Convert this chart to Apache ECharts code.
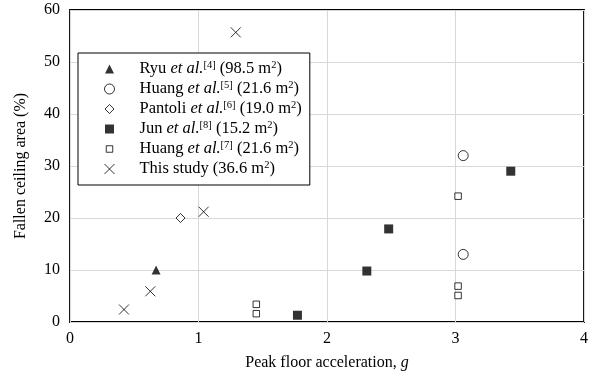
<!DOCTYPE html>
<html>
<head>
<meta charset="utf-8">
<script src="https://cdn.jsdelivr.net/npm/echarts@6/dist/echarts.min.js"></script>
<style>html,body{margin:0;padding:0;background:#fff}#c{width:591px;height:376px}</style>
</head>
<body>
<div id="c"></div>
<script>
const xTicks = [0, 1, 2, 3, 4];
const yTicks = [0, 10, 20, 30, 40, 50, 60];
const seriesNames = ['Ryu', 'Huang5', 'Pantoli', 'Jun', 'Huang7', 'This'];
const legendLabels = [
  'Ryu {i|et al.}{s|[4]} (98.5 m{s|2})',
  'Huang {i|et al.}{s|[5]} (21.6 m{s|2})',
  'Pantoli {i|et al.}{s|[6]} (19.0 m{s|2})',
  'Jun {i|et al.}{s|[8]} (15.2 m{s|2})',
  'Huang {i|et al.}{s|[7]} (21.6 m{s|2})',
  'This study (36.6 m{s|2})'
];
const ryu = [[0.67, 10]];
const huang5 = [[3.06, 32], [3.06, 13]];
const pantoli = [[0.86, 20]];
const jun = [[1.77, 1.3], [2.31, 9.8], [2.48, 17.9], [3.43, 29]];
const huang7 = [[1.45, 3.4], [1.45, 1.6], [3.02, 24.2], [3.02, 6.9], [3.02, 5.1]];
const thisStudy = [[0.42, 2.4], [0.625, 5.9], [1.04, 21.2], [1.29, 55.7]];

const font = 'Liberation Serif';
const X = 'path://M0,0L10,10M10,0L0,10';
// legend icons drawn in a 50x10 box (corner points fix the box)
const box = 'M0,0L0,0M50,10L50,10';
const legendIcons = [
  'path://' + box + 'M25,0.5L29.5,9.5L20.5,9.5Z',
  'path://' + box + 'M20,5A5,5 0 1,0 30,5A5,5 0 1,0 20,5Z',
  'path://' + box + 'M25,0.5L29.5,5L25,9.5L20.5,5Z',
  'path://' + box + 'M20.5,0.5L29.5,0.5L29.5,9.5L20.5,9.5Z',
  'path://' + box + 'M21.75,1.75L28.25,1.75L28.25,8.25L21.75,8.25Z',
  'path://' + box + 'M20,0L30,10M30,0L20,10'
];
const chart = echarts.init(document.getElementById('c'));
const base = {type: 'scatter', z: 3};
chart.setOption({
  animation: false,
  textStyle: {fontFamily: font},
  grid: {left: 70, right: 4, top: 10, bottom: 54, show: true, borderColor: '#000', borderWidth: 1.8, backgroundColor: 'transparent'},
  xAxis: {
    type: 'value', min: xTicks[0], max: xTicks[xTicks.length - 1], interval: 1,
    axisLine: {show: false}, axisTick: {show: false},
    splitLine: {show: true, lineStyle: {color: '#d9d9d9', width: 1}},
    axisLabel: {fontFamily: font, fontSize: 16, color: '#000', margin: 9},
    name: 'Peak floor acceleration, {i|g}', nameLocation: 'middle', nameGap: 33,
    nameTextStyle: {fontFamily: font, fontSize: 16, color: '#000', rich: {i: {fontFamily: font, fontSize: 16, fontStyle: 'italic', color: '#000'}}}
  },
  yAxis: {
    type: 'value', min: yTicks[0], max: yTicks[yTicks.length - 1], interval: 10,
    axisLine: {show: false}, axisTick: {show: false},
    splitLine: {show: true, lineStyle: {color: '#d9d9d9', width: 1}},
    axisLabel: {fontFamily: font, fontSize: 16, color: '#000', margin: 10},
    name: 'Fallen ceiling area (%)', nameLocation: 'middle', nameGap: 41,
    nameTextStyle: {fontFamily: font, fontSize: 16, color: '#000'}
  },
  legend: {
    orient: 'vertical', left: 78, top: 53,
    padding: [7, 8, 7, 4], itemGap: 2, itemWidth: 50, itemHeight: 10,
    backgroundColor: '#fff', borderColor: '#000', borderWidth: 1, borderRadius: 0,
    selectedMode: false,
    itemStyle: {borderWidth: 1},
    data: seriesNames.map(function (n, k) { return {name: n, icon: legendIcons[k]}; }),
    formatter: function (n) { return legendLabels[seriesNames.indexOf(n)]; },
    textStyle: {
      fontFamily: font, fontSize: 16.5, color: '#000', lineHeight: 18,
      rich: {
        i: {fontFamily: font, fontSize: 16.5, fontStyle: 'italic', color: '#000', lineHeight: 18},
        s: {fontFamily: font, fontSize: 10.5, color: '#000', verticalAlign: 'top', lineHeight: 18}
      }
    }
  },
  series: [
    Object.assign({}, base, {name: seriesNames[0], data: ryu, symbol: 'triangle', symbolSize: 9, itemStyle: {color: '#000'}}),
    Object.assign({}, base, {name: seriesNames[1], data: huang5, symbol: 'circle', symbolSize: 10, itemStyle: {color: '#fff', borderColor: '#000', borderWidth: 1}}),
    Object.assign({}, base, {name: seriesNames[2], data: pantoli, symbol: 'diamond', symbolSize: 9, itemStyle: {color: '#fff', borderColor: '#000', borderWidth: 1}}),
    Object.assign({}, base, {name: seriesNames[3], data: jun, symbol: 'rect', symbolSize: 9, itemStyle: {color: '#000'}}),
    Object.assign({}, base, {name: seriesNames[4], data: huang7, symbol: 'rect', symbolSize: 6.5, itemStyle: {color: '#fff', borderColor: '#000', borderWidth: 1}}),
    Object.assign({}, base, {name: seriesNames[5], data: thisStudy, symbol: X, symbolSize: 10, itemStyle: {color: 'none', borderColor: '#000', borderWidth: 1}})
  ]
});
</script>
</body>
</html>
